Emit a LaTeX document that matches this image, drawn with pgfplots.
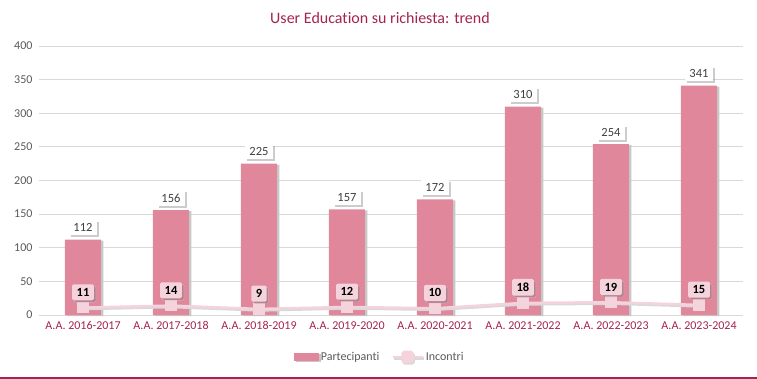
\documentclass[border=0pt]{standalone}
\usepackage{fontspec}
\setmainfont{Carlito}[Ligatures={NoCommon}]
\usepackage{pgfplots}
\pgfplotsset{compat=1.18}
\usetikzlibrary{shadows}
\definecolor{barc}{HTML}{E0879C}
\definecolor{linec}{HTML}{F4D3DC}
\definecolor{titc}{HTML}{A32450}
\definecolor{gridc}{HTML}{D9D9D9}
\definecolor{axtxt}{HTML}{595959}
\definecolor{lbl}{HTML}{404040}
\begin{document}
\begin{tikzpicture}[x=1bp,y=1bp]
\begin{axis}[scale only axis,
  width=704bp, height=269bp,
  xmin=-0.5, xmax=7.5, ymin=0, ymax=400,
  ytick={0,50,...,400}, xtick={0,...,7},
  xticklabels={A.A. 2016-2017,A.A. 2017-2018,A.A. 2018-2019,A.A. 2019-2020,A.A. 2020-2021,A.A. 2021-2022,A.A. 2022-2023,A.A. 2023-2024},
  ymajorgrids, grid style={gridc, line width=0.8bp},
  axis line style={draw=none}, major tick length=0pt,
  /pgf/number format/assume math mode=true,
  yticklabel style={axtxt, font=\fontsize{12bp}{14bp}\selectfont, xshift=-3bp},
  xticklabel style={titc, font=\fontsize{12bp}{14bp}\selectfont, yshift=-3bp},
  legend style={at={(0.484,-0.156)}, anchor=center, draw=none, fill=none,
    font=\fontsize{12bp}{14bp}\selectfont, text=axtxt,
    /tikz/every even column/.append style={column sep=10bp}},
  legend columns=2,
  clip=false,
]
\coordinate (O) at (rel axis cs:0,0);
\addplot[ybar, bar width=36bp, fill=barc, draw=none,
  preaction={fill=black!22, transform canvas={xshift=2.5bp,yshift=-1bp}},
  nodes near coords={\tikz\node[fill=white, drop shadow={shadow xshift=2bp, shadow yshift=-2bp, opacity=0.4},
    font=\fontsize{12.5bp}{14bp}\selectfont, text=lbl, inner xsep=4.5bp, inner ysep=3.5bp]{\pgfmathprintnumber{\pgfplotspointmeta}};},
  every node near coord/.append style={inner sep=0pt, anchor=south, yshift=4bp},
  legend image code/.code={\fill[barc] (0bp,-4bp) rectangle (25bp,4bp);}]
  coordinates {(0,112) (1,156) (2,225) (3,157) (4,172) (5,310) (6,254) (7,341)};
\addlegendentry{Partecipanti}
\addplot[linec, line width=2.5bp, mark=square*, mark size=4.5bp, mark options={fill=linec, draw=linec, rounded corners=1.5bp},
  preaction={draw=black!15, line width=2.5bp, transform canvas={xshift=1bp,yshift=-1.5bp}},
  nodes near coords={\tikz\node[fill=linec, drop shadow={shadow xshift=2bp, shadow yshift=-2bp, opacity=0.45},
    font=\bfseries\fontsize{12.5bp}{14bp}\selectfont, text=black, inner xsep=4.5bp, inner ysep=4bp]{\pgfmathprintnumber{\pgfplotspointmeta}};},
  every node near coord/.append style={inner sep=0pt, anchor=south, yshift=7bp},
  legend image code/.code={\draw[linec, line width=2.5bp] (0bp,0bp) -- (30bp,0bp); \fill[linec, rounded corners=1.5bp] (10bp,-5bp) rectangle (20bp,5bp);}]
  coordinates {(0,11) (1,14) (2,9) (3,12) (4,10) (5,18) (6,19) (7,15)};
\addlegendentry{Incontri}
\end{axis}
\pgfresetboundingbox
\path[use as bounding box] ([shift={(-39bp,-64bp)}]O) rectangle ([shift={(718bp,315bp)}]O);
\draw[titc, line width=1.2bp] ([shift={(-39bp,-63bp)}]O) -- ([shift={(718bp,-63bp)}]O);
\node[titc, font=\fontsize{16bp}{18bp}\selectfont] at ([shift={(341bp,297bp)}]O) {User Education su richiesta: trend};
\end{tikzpicture}
\end{document}
